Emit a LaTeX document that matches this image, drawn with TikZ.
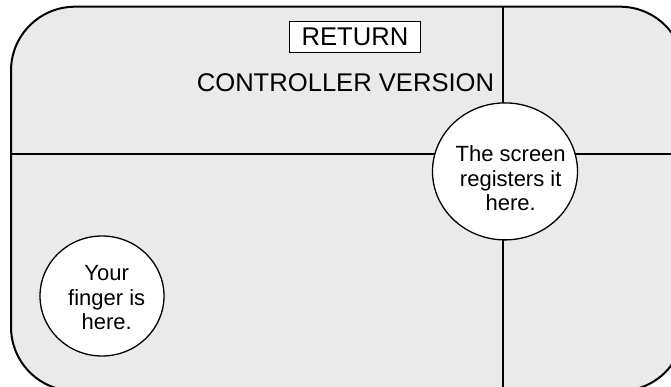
\documentclass[tikz,border=0pt]{standalone}
\usepackage{fontspec}
\setmainfont{Liberation Sans}
\usepackage{xcolor}
\usetikzlibrary{shapes.geometric}
\usetikzlibrary{positioning}
\definecolor{screengray}{HTML}{EAEAEA}

\begin{document}
\begin{tikzpicture}[x=1pt,y=-1pt,
		bubble/.style={draw, ellipse, fill=white, line width=1.3pt, inner sep=0pt},
		bubtext/.style={align=center, inner sep=0pt, font=\fontsize{22}{24.5}\selectfont},
		title/.style={font=\fontsize{25.6}{30}\selectfont}]
				\useasboundingbox (0,0) rectangle (671,387);
				\clip (0,0) rectangle (671,387);
				
				% screen
				\draw[line width=2pt, fill=screengray, rounded corners=64] (11,6.7) rectangle (684,391);
				
				% cross lines
				\coordinate (west) at (11,154.3);
				\coordinate (east) at (684,154.3);
				\coordinate (north) at (503,6.7);
				\coordinate (south) at (503,391);
				\draw[line width=1.8pt] (west) -- (east);
				\draw[line width=1.8pt] (north) -- (south);
				
				% return button and title
				\node[draw, line width=.8pt, fill=white, minimum width=131, minimum height=31, inner sep=0pt, title] (return) at (355,36.7) {RETURN};
				\node[title, anchor=base, inner sep=0pt] (version) at (345.5,91.7) {CONTROLLER VERSION};
				
				% where the screen thinks the touch is
				\node[bubble, minimum width=145, minimum height=137] (registered) at (505,171.4) {};
				\node[bubtext] (registeredtxt) at (510.7,178.5) {The screen\\registers it\\here.};
				
				% where the finger is
				\node[bubble, minimum width=124, minimum height=120] (finger) at (102,296) {};
				\node[bubtext] (fingertxt) at (106.7,298) {Your\\finger is\\here.};
			\end{tikzpicture}
\end{document}
